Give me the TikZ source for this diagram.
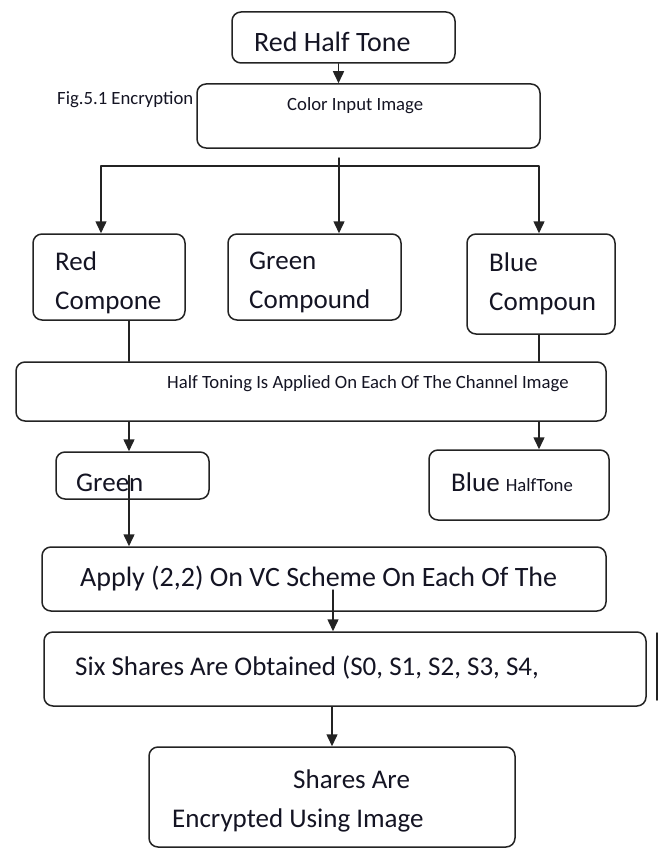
\documentclass[tikz,border=0pt]{standalone}
\usepackage{fontspec}
\setmainfont{Carlito}
\usetikzlibrary{arrows.meta,calc}

\definecolor{boxline}{RGB}{35,35,35}
\definecolor{inkdark}{RGB}{20,20,35}

\newcommand{\bigtxt}{\fontsize{27}{39}\selectfont}
\newcommand{\widetxt}{\fontsize{28}{39}\selectfont}
\newcommand{\smalltxt}{\fontsize{18.7}{22}\selectfont}

\begin{document}
\begin{tikzpicture}[x=1pt,y=-1pt,line cap=round,line join=round,
    flowbox/.style={draw=boxline,line width=1.5pt,rounded corners=9pt,inner sep=0pt},
    arr/.style={-{Triangle[length=12pt,width=11pt]},line width=1.5pt,boxline},
    lbl/.style={anchor=west,inner sep=0pt,text=inkdark,align=left}]

        \useasboundingbox (0,0) rectangle (665,848);

        %----------------------------------------------------------
        % Cajas del diagrama
        \node[flowbox,minimum width=223,minimum height=51] (redht) at (343.5,37.5) {};
        \node[flowbox,minimum width=343,minimum height=64] (color) at (368.5,116) {};
        \node[flowbox,minimum width=152,minimum height=86] (red) at (109,277) {};
        \node[flowbox,minimum width=173,minimum height=86] (green) at (314.5,277) {};
        \node[flowbox,minimum width=148,minimum height=100] (blue) at (541,284) {};
        \node[flowbox,minimum width=590,minimum height=59] (halft) at (311,391.5) {};
        \node[flowbox,minimum width=153,minimum height=47] (greenht) at (132.5,475.5) {};
        \node[flowbox,minimum width=180,minimum height=70] (blueht) at (519,485) {};
        \node[flowbox,minimum width=564,minimum height=64] (apply) at (324,579) {};
        \node[flowbox,minimum width=602,minimum height=74] (six) at (345,669) {};
        \node[flowbox,minimum width=366,minimum height=100] (enc) at (332,797) {};
        \draw[boxline,line width=1.5pt] (657,633) -- (657,700);

        %----------------------------------------------------------
        % Textos
        \node[lbl,font=\widetxt] (redhttxt) at (254,42) {Red Half Tone};
        \node[lbl,font=\smalltxt] (figtxt) at (57,100) {Fig.5.1 Encryption};
        \node[lbl,font=\smalltxt] (colortxt) at (287,106) {Color Input Image};
        \node[lbl,font=\bigtxt] (redtxt) at (55,282.5) {Red\\Compone};
        \node[lbl,font=\bigtxt] (greentxt) at (249,282.5) {Green\\Compound};
        \node[lbl,font=\bigtxt] (bluetxt) at (489,284) {Blue\\Compoun};
        \node[lbl,font=\smalltxt] (halfttxt) at (167,384)
            {Half Toning Is Applied On Each Of The Channel Image};
        \node[lbl,font=\bigtxt] (greenhttxt) at (76,483) {Green};
        \node[lbl,font=\bigtxt] (bluehttxt) at (451,482) {Blue {\smalltxt HalfTone}};
        \node[lbl,font=\widetxt] (applytxt) at (80,579)
            {Apply (2,2) On VC Scheme On Each Of The};
        \node[lbl,font=\bigtxt] (sixtxt) at (75,667)
            {Six Shares Are Obtained (S0, S1, S2, S3, S4,};
        \node[lbl,font=\bigtxt] (enctxt1) at (293,779) {Shares Are};
        \node[lbl,font=\bigtxt] (enctxt2) at (172,820) {Encrypted Using Image};

        %----------------------------------------------------------
        % Conectores
        \draw[arr] ($(redht.south)+(-5,0)$) -- ($(color.north -| redht.south)+(-5,0)$);

        \coordinate (split) at (339,158);
        \coordinate (bar) at (339,166);
        \draw[arr] (split) -- (split |- green.north);
        \draw[arr] (bar) -| ($(red.north)+(-8,0)$);
        \draw[arr] (bar) -| ($(blue.north)+(-2,0)$);

        \coordinate (redout) at ($(red.south)+(20,0)$);
        \coordinate (blueout) at ($(blue.south)+(-2,0)$);
        \draw[boxline,line width=1.5pt] (redout) -- (redout |- halft.north);
        \draw[boxline,line width=1.5pt] (blueout) -- (blueout |- halft.north);
        \draw[arr] (redout |- halft.south) -- (redout |- greenht.north);
        \draw[arr] (blueout |- halft.south) -- (blueout |- blueht.north);

        \draw[arr] (redout |- greenht.center) -- (redout |- apply.north);
        \coordinate (applyout) at ($(apply.center)+(9,11)$);
        \draw[arr] (applyout) -- (applyout |- six.north);
        \draw[arr] (enc.north |- six.south) -- (enc.north);
\end{tikzpicture}
\end{document}
